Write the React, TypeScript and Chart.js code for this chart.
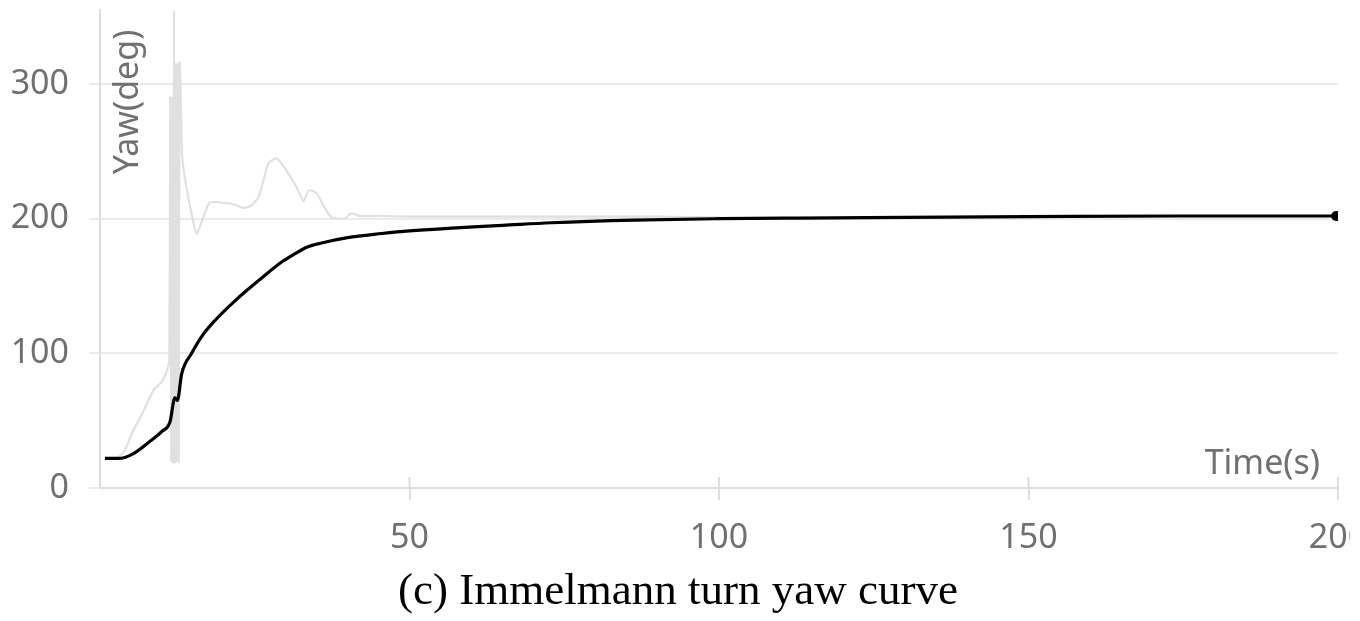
import React, { useEffect, useRef } from "react";
import { Chart, registerables } from "chart.js";

Chart.register(...registerables);

// Black curve (filtered yaw)
const timeBlack = [0.8, 3, 5.2, 7.9, 10, 11.3, 12.1, 12.5, 13.2, 14.8, 16.5, 18.5, 21.8, 25.6, 29.4, 31.5, 33.5, 35.8, 40, 45.5, 50, 56.8, 65, 72.9, 86.3, 100, 113, 130, 150, 175, 199.7];
const yawBlack = [22, 22, 25, 34, 42, 49, 67, 65, 85, 100, 113, 124, 139, 154, 168, 174, 179, 182, 186, 189, 191, 193, 195, 197, 199, 200, 200.5, 201, 201.5, 202, 202];

// Grey curve (raw yaw)
const timeGrey = [0.8, 2.7, 4, 5.2, 7, 8.7, 10, 10.8, 11.2, 11.35, 11.5, 11.65, 11.8, 11.95, 12.1, 12.25, 12.4, 12.55, 12.7, 12.85, 13.0, 13.3, 14.3, 15.6, 16.6, 17.7, 19.5, 21.3, 23.2, 24.5, 25.6, 26.5, 27.2, 28.5, 29.5, 30.5, 31.8, 32.9, 33.7, 35, 36.3, 37.4, 38.5, 39.5, 40.6, 42, 45, 50, 60, 70, 80, 90, 100];
const yawGrey = [22, 22, 28, 41, 57, 73, 79, 87, 95, 290, 19, 290, 19, 354, 19, 316, 19, 316, 19, 316, 300, 245, 215, 189, 200, 212, 212, 211, 208, 210, 216, 230, 241, 245, 240, 233, 223, 213, 221, 219, 208, 201, 200, 200, 204, 202, 202, 201.5, 201.5, 201.5, 201.5, 201.5, 201];

const xTicks = [0, 50, 100, 150, 200];
const yTicks = [0, 100, 200, 300];

const xTitle = "Time(s)";
const yTitle = "Yaw(deg)";
const caption = "(c) Immelmann turn yaw curve";

const SANS = "'Noto Sans', sans-serif";
const LABEL_COLOR = "#707070";

export default function App() {
  const ref = useRef<HTMLCanvasElement | null>(null);

  useEffect(() => {
    document.body.style.margin = "0";
    const canvas = ref.current;
    if (!canvas) return;

    const overlay = {
      id: "overlay",
      afterDraw(chart: any) {
        const { ctx, chartArea, scales } = chart;
        ctx.save();
        // x tick marks crossing above axis
        ctx.strokeStyle = "#dddddd";
        ctx.lineWidth = 2;
        xTicks.forEach((v) => {
          if (v === 0) return;
          const px = scales.x.getPixelForValue(v);
          ctx.beginPath();
          ctx.moveTo(px, chartArea.bottom - 11);
          ctx.lineTo(px, chartArea.bottom);
          ctx.stroke();
        });
        // y title inside plot
        ctx.fillStyle = LABEL_COLOR;
        ctx.font = `34px ${SANS}`;
        ctx.save();
        ctx.translate(chartArea.left + 28, chartArea.top + 92);
        ctx.rotate(-Math.PI / 2);
        ctx.textAlign = "center";
        ctx.textBaseline = "middle";
        ctx.fillText(yTitle, 0, 0);
        ctx.restore();
        // x title
        ctx.textAlign = "right";
        ctx.textBaseline = "alphabetic";
        ctx.fillText(xTitle, chartArea.right - 18, chartArea.bottom - 14);
        // caption
        ctx.fillStyle = "#000";
        ctx.font = `45px 'Liberation Serif', 'Times New Roman', serif`;
        ctx.textAlign = "center";
        ctx.fillText(caption, 678, 604);
        ctx.restore();
      },
    };

    const chart = new Chart(canvas, {
      type: "line",
      data: {
        datasets: [
          {
            data: timeBlack.map((t, i) => ({ x: t, y: yawBlack[i] })),
            borderColor: "#000000",
            backgroundColor: "#000000",
            borderWidth: 3.2,
            cubicInterpolationMode: "monotone",
            pointRadius: (c: any) => (c.dataIndex === timeBlack.length - 1 ? 5 : 0),
            pointBackgroundColor: "#000000",
            pointBorderWidth: 0,
          },
          {
            data: timeGrey.map((t, i) => ({ x: t, y: yawGrey[i] })),
            borderColor: "#e0e0e0",
            borderWidth: 2.2,
            tension: 0.2,
            pointRadius: 0,
          },
        ],
      },
      options: {
        responsive: false,
        animation: false,
        devicePixelRatio: 1,
        layout: { padding: { top: 10, right: 12, left: 0, bottom: 0 } },
        plugins: { legend: { display: false }, tooltip: { enabled: false }, title: { display: false } },
        scales: {
          x: {
            type: "linear",
            min: 0,
            max: 200,
            afterBuildTicks: (s: any) => {
              s.ticks = xTicks.map((v) => ({ value: v }));
            },
            afterFit: (s: any) => {
              s.height = 133;
              s.paddingLeft = 0;
              s.paddingRight = 0;
            },
            ticks: {
              callback: (v: any) => (v === 0 ? "" : String(v)),
              font: { family: SANS, size: 34 },
              color: LABEL_COLOR,
              padding: 18,
              maxRotation: 0,
              autoSkip: false,
            },
            grid: {
              drawOnChartArea: false,
              drawTicks: true,
              tickLength: 12,
              color: (c: any) => (c.tick && c.tick.value === 0 ? "rgba(0,0,0,0)" : "#dddddd"),
              lineWidth: 2,
            },
            border: { color: "#dddddd", width: 2 },
          },
          y: {
            type: "linear",
            min: 0,
            max: 355,
            afterBuildTicks: (s: any) => {
              s.ticks = yTicks.map((v) => ({ value: v }));
            },
            afterFit: (s: any) => {
              s.width = 100;
              s.paddingTop = 0;
              s.paddingBottom = 0;
            },
            ticks: {
              font: { family: SANS, size: 34 },
              color: LABEL_COLOR,
              padding: 20,
            },
            grid: {
              color: "#ebebeb",
              lineWidth: 2,
              tickLength: 11,
            },
            border: { color: "#dddddd", width: 2 },
          },
        },
      },
      plugins: [overlay],
    } as any);

    return () => chart.destroy();
  }, []);

  return (
    <div style={{ width: 1360, height: 621, background: "#fff" }}>
      <canvas ref={ref} width={1350} height={621} style={{ display: "block" }} />
    </div>
  );
}
